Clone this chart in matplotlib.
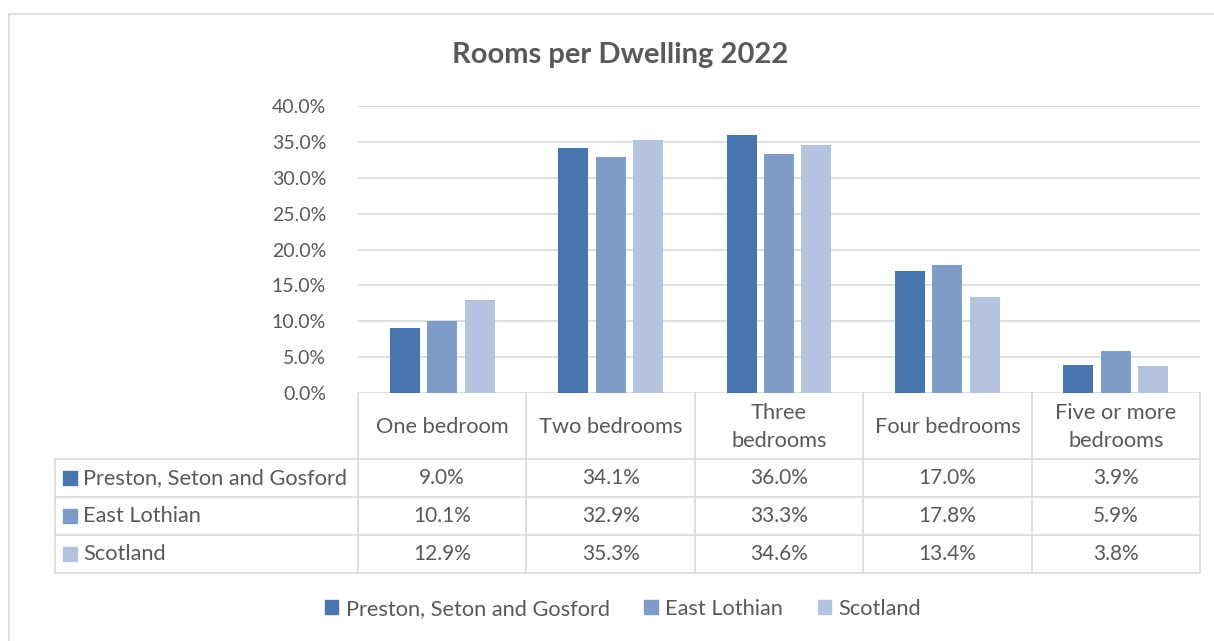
import matplotlib
matplotlib.use("Agg")
import matplotlib.pyplot as plt
from matplotlib.patches import Rectangle
import numpy as np

plt.rcParams['font.family'] = ['Lato', 'DejaVu Sans']

categories = ["One bedroom", "Two bedrooms", "Three\nbedrooms", "Four bedrooms", "Five or more\nbedrooms"]
series_names = ["Preston, Seton and Gosford", "East Lothian", "Scotland"]
preston = [9.0, 34.1, 36.0, 17.0, 3.9]
east_lothian = [10.1, 32.9, 33.3, 17.8, 5.9]
scotland = [12.9, 35.3, 34.6, 13.4, 3.8]
series_values = [preston, east_lothian, scotland]
yticks = [0, 5, 10, 15, 20, 25, 30, 35, 40]
title = "Rooms per Dwelling 2022"

colors = ["#4A76B0", "#7F9CC8", "#B4C4DF"]
txt = "#595959"
grid = "#D9D9D9"
fs = 15.7
fsn = 15

W, H = 1214, 641
fig = plt.figure(figsize=(W / 100, H / 100), dpi=100)

# overlay in pixel coordinates
ov = fig.add_axes([0, 0, 1, 1])
ov.set_xlim(0, W)
ov.set_ylim(H, 0)
ov.axis('off')

# outer chart border
ov.plot([9, W], [14, 14], color=grid, lw=1.2)
ov.plot([9, 9], [14, H], color=grid, lw=1.2)

# plot area
pl, pr, pt, pb = 358, 1200, 106, 393
ax = fig.add_axes([pl / W, 1 - pb / H, (pr - pl) / W, (pb - pt) / H])
ax.set_xlim(-0.5, len(categories) - 0.5)
ax.set_ylim(0, 40)
ax.set_yticks(yticks)
ax.set_yticklabels([f"{v:.1f}%" for v in yticks])
ax.tick_params(axis='y', length=0, pad=23, labelsize=14, labelcolor=txt)
ax.set_xticks([])
for s in ax.spines.values():
    s.set_visible(False)
ax.grid(axis='y', color=grid, lw=1.2)
ax.set_axisbelow(True)
ax.patch.set_alpha(0)

x = np.arange(len(categories))
bw = 0.178
step = 0.222
for i, (vals, c) in enumerate(zip(series_values, colors)):
    ax.bar(x + (i - 1) * step, vals, width=bw, color=c, zorder=3)

fig.text(620 / W, 1 - 55 / H, title, ha='center', va='center', fontsize=21,
         fontweight='bold', color=txt)

# data table
tl = 55
row_y = [393, 459, 497, 535, 573]
ncol = len(categories)
colw = (pr - pl) / ncol
col_x = [pl + k * colw for k in range(ncol + 1)]
lw = 1.2
for yy in row_y[1:]:
    ov.plot([tl, pr], [yy, yy], color=grid, lw=lw)
for cx in col_x:
    ov.plot([cx, cx], [row_y[0], row_y[-1]], color=grid, lw=lw)
ov.plot([tl, tl], [row_y[1], row_y[-1]], color=grid, lw=lw)

# header
for k, cat in enumerate(categories):
    cx = (col_x[k] + col_x[k + 1]) / 2
    ov.text(cx, (row_y[0] + row_y[1]) / 2 + 1, cat, ha='center', va='center',
            fontsize=fs, color=txt, linespacing=1.55)

# rows
for r, (name, vals, c) in enumerate(zip(series_names, series_values, colors)):
    cy = (row_y[r + 1] + row_y[r + 2]) / 2
    ov.add_patch(Rectangle((63, cy - 7), 14, 14, color=c))
    ov.text(83, cy, name, ha='left', va='center', fontsize=fs, color=txt)
    for k, v in enumerate(vals):
        cx = (col_x[k] + col_x[k + 1]) / 2
        ov.text(cx, cy, f"{v:.1f}%", ha='center', va='center', fontsize=fsn, color=txt)

# legend
handles = [Rectangle((0, 0), 1, 1, color=c) for c in colors]
fig.legend(handles, series_names, loc='center', bbox_to_anchor=(623 / W, 1 - 609 / H),
           ncol=3, frameon=False, fontsize=fs, labelcolor=txt,
           handlelength=0.62, handleheight=0.62, handletextpad=0.33, columnspacing=1.6)

fig.savefig("out.png", dpi=100)
